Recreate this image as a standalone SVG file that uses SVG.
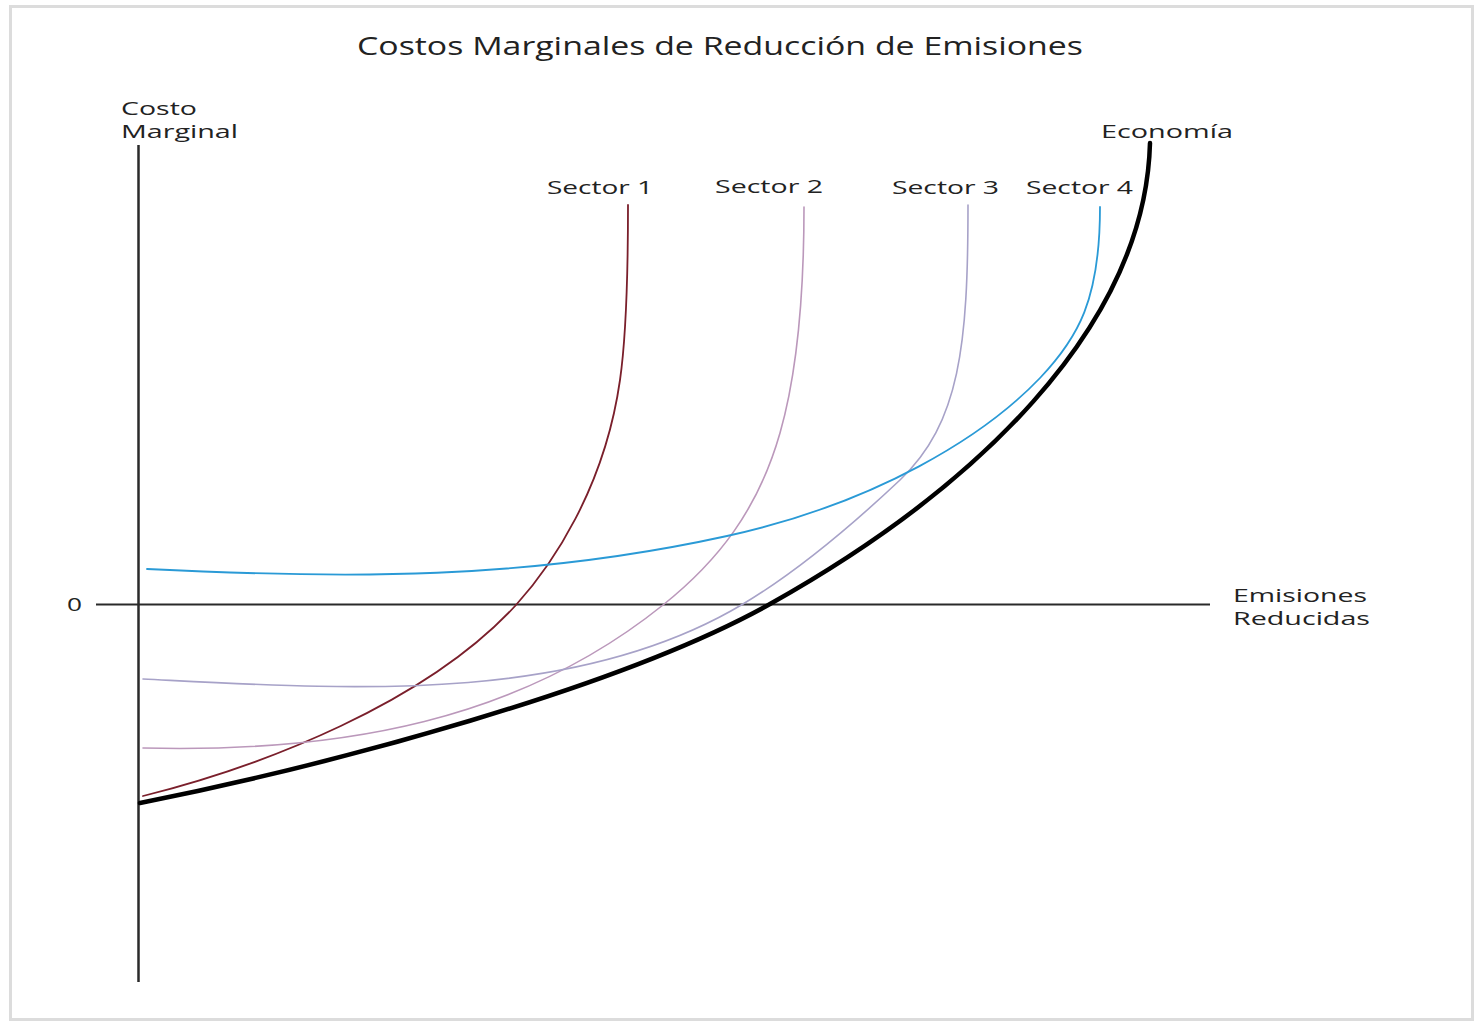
<svg xmlns="http://www.w3.org/2000/svg" width="1480" height="1027" viewBox="0 0 1480 1027">
<style>
text{font-family:"Open Sans","Liberation Sans",sans-serif;fill:#222}
.t{font-size:25px}
.l{font-size:18px}
.axis{stroke:#2a2a2a;fill:none}
.c{fill:none;stroke-linecap:round;stroke-linejoin:round}
</style>
<rect x="0" y="0" width="1480" height="1027" fill="#fff"/>
<rect x="10.5" y="6.5" width="1462" height="1013" fill="#fff" stroke="#dcdcdc" stroke-width="3"/>
<g id="title"><text class="t" x="357" y="55" textLength="726" lengthAdjust="spacingAndGlyphs">Costos Marginales de Reducción de Emisiones</text></g>
<g id="axes">
<line class="axis" x1="138.5" y1="145" x2="138.5" y2="982" stroke-width="2.5"/>
<line class="axis" x1="96" y1="604.5" x2="1210" y2="604.5" stroke-width="2"/>
<text class="l" x="121" y="115" textLength="76" lengthAdjust="spacingAndGlyphs">Costo</text>
<text class="l" x="121" y="138" textLength="117" lengthAdjust="spacingAndGlyphs">Marginal</text>
<text class="l" x="1233" y="602" textLength="134" lengthAdjust="spacingAndGlyphs">Emisiones</text>
<text class="l" x="1233" y="625" textLength="137" lengthAdjust="spacingAndGlyphs">Reducidas</text>
<text class="l" x="67" y="611" textLength="15" lengthAdjust="spacingAndGlyphs">0</text>
</g>
<g id="connectors">
<g id="sector1"><path class="c" stroke="#7a1f2b" stroke-width="1.8" d="M143,796 C263,766 426,703 516,605 C551,566.5 604.5,489 620,380 C627,331 628,270 628,205"/>
<text class="l" x="547" y="194" textLength="106" lengthAdjust="spacingAndGlyphs">Sector 1</text></g>
<g id="sector2"><path class="c" stroke="#bb98bb" stroke-width="1.6" d="M143,748 C343,753 520,720 663,605 C718,561 758,510 780,433 C797,373.5 804,290 804,207"/>
<text class="l" x="715" y="193" textLength="108" lengthAdjust="spacingAndGlyphs">Sector 2</text></g>
<g id="sector3"><path class="c" stroke="#a7a2c8" stroke-width="1.6" d="M143,679 C343,689 573,706 743,604 C795,573 848,529 900,480 C960,423 968,345 968,205"/>
<text class="l" x="892" y="194" textLength="107" lengthAdjust="spacingAndGlyphs">Sector 3</text></g>
<g id="sector4"><path class="c" stroke="#2a9ad6" stroke-width="1.8" d="M147,569 C347,579 527,580 727,536 C877,503 984.8,435.9 1040,378 C1078,338 1100,300 1100,207"/>
<text class="l" x="1026" y="194" textLength="107" lengthAdjust="spacingAndGlyphs">Sector 4</text></g>
<g id="economia"><path class="c" stroke="#000" stroke-width="4.5" d="M140,803 C330,765 620,688 770,604 C970,492 1145,330 1150,143"/>
<text class="l" x="1101" y="138" textLength="132" lengthAdjust="spacingAndGlyphs">Economía</text></g>
</g>
</svg>
